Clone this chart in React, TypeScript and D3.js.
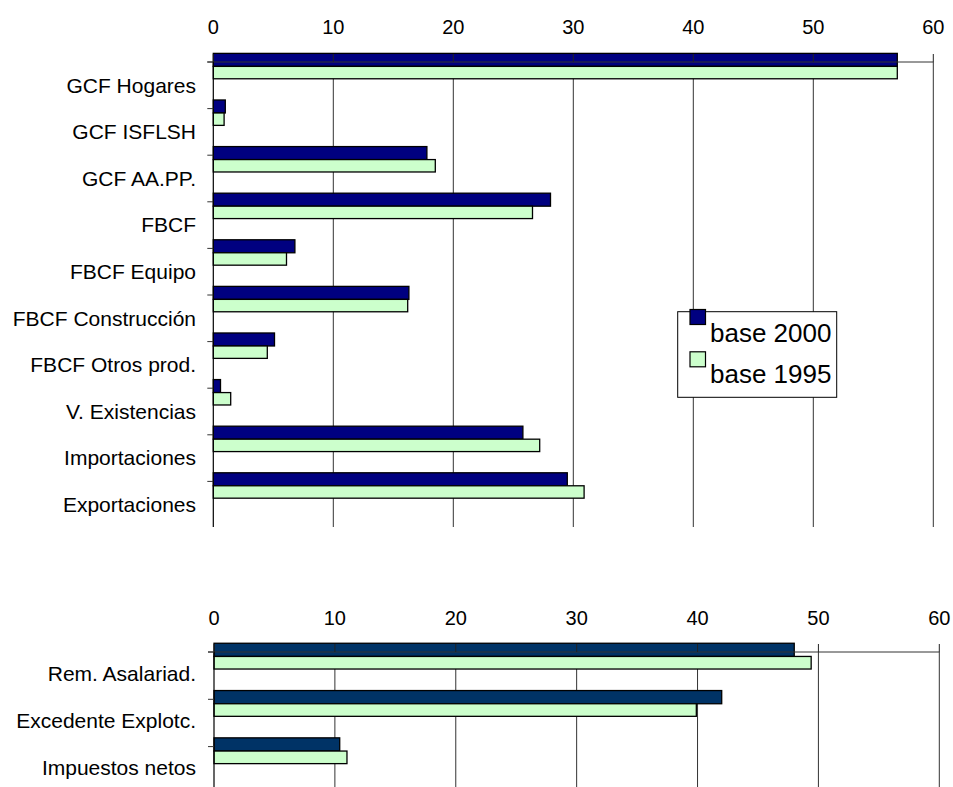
import React from "react";
import * as d3 from "d3";

const categoriesTop = [
  "GCF Hogares",
  "GCF ISFLSH",
  "GCF AA.PP.",
  "FBCF",
  "FBCF Equipo",
  "FBCF Construcción",
  "FBCF Otros prod.",
  "V. Existencias",
  "Importaciones",
  "Exportaciones",
];
const base2000Top = [57.0, 1.0, 17.8, 28.1, 6.8, 16.3, 5.1, 0.6, 25.8, 29.5];
const base1995Top = [57.0, 0.9, 18.5, 26.6, 6.1, 16.2, 4.5, 1.45, 27.2, 30.9];

const categoriesBottom = ["Rem. Asalariad.", "Excedente Explotc.", "Impuestos netos"];
const base2000Bottom = [48.0, 42.0, 10.4];
const base1995Bottom = [49.4, 39.9, 11.0];

const xTicks = [0, 10, 20, 30, 40, 50, 60];
const legendLabels = ["base 2000", "base 1995"];

const W = 953;
const H = 787;
const FONT = "'Liberation Sans', Arial, Helvetica, sans-serif";
const GREEN = "#CCFFCC";

type PanelProps = {
  cats: string[];
  a: number[];
  b: number[];
  x0: number;
  x1: number;
  top: number;
  band: number;
  bottom: number;
  navy: string;
  tickLabelY: number;
  labelFrac: number;
};

function Panel({ cats, a, b, x0, x1, top, band, bottom, navy, tickLabelY, labelFrac }: PanelProps) {
  const x = d3.scaleLinear().domain([0, 60]).range([x0, x1]);
  const y = d3
    .scaleBand<string>()
    .domain(cats)
    .range([top, top + band * cats.length])
    .paddingInner(0)
    .paddingOuter(0);
  const bw = y.bandwidth();
  const off1 = -0.185 * bw;
  const off2 = 0.094 * bw;
  const off3 = 0.36 * bw;
  const yBoundaries = cats.map((c) => y(c) as number);

  return (
    <g>
      {xTicks.slice(1).map((t) => (
        <line key={"g" + t} x1={x(t)} x2={x(t)} y1={top} y2={bottom} stroke="#333" strokeWidth={1} />
      ))}
      {cats.map((c, i) => {
        const y0 = y(c) as number;
        return (
          <g key={c}>
            <rect x={x(0)} y={y0 + off1} width={x(a[i]) - x(0)} height={off2 - off1} fill={navy} stroke="#000" strokeWidth={1.3} />
            <rect x={x(0)} y={y0 + off2} width={x(b[i]) - x(0)} height={off3 - off2} fill={GREEN} stroke="#000" strokeWidth={1.3} />
          </g>
        );
      })}
      <line x1={x(0) - 6} x2={x(60)} y1={top} y2={top} stroke="#333" strokeWidth={1} />
      {xTicks.map((t) => (
        <line key={"t" + t} x1={x(t)} x2={x(t)} y1={top - 8} y2={top} stroke="#222" strokeWidth={1} />
      ))}
      <line x1={x(0)} x2={x(0)} y1={top} y2={bottom} stroke="#000" strokeWidth={1.2} />
      {yBoundaries.map((yy, i) => (
        <line key={"yt" + i} x1={x(0) - 6} x2={x(0)} y1={yy} y2={yy} stroke="#333" strokeWidth={1} />
      ))}
      {xTicks.map((t) => (
        <text key={"l" + t} x={x(t)} y={tickLabelY} textAnchor="middle" fontSize={20} fontFamily={FONT} fill="#000">
          {t}
        </text>
      ))}
      {cats.map((c) => (
        <text key={"c" + c} x={196} y={(y(c) as number) + bw * labelFrac} dy="0.35em" textAnchor="end" fontSize={21} fontFamily={FONT} fill="#000">
          {c}
        </text>
      ))}
    </g>
  );
}

export default function App() {
  const legendColors = ["#000080", GREEN];
  return (
    <svg width={W} height={H} style={{ position: "absolute", left: 0, top: 0, background: "#fff" }}>
      <rect x={0} y={0} width={W} height={H} fill="#fff" />
      <Panel
        cats={categoriesTop}
        a={base2000Top}
        b={base1995Top}
        x0={213.3}
        x1={933.3}
        top={62}
        band={46.6}
        bottom={527}
        navy="#000080"
        tickLabelY={34}
        labelFrac={0.5}
      />
      <Panel
        cats={categoriesBottom}
        a={base2000Bottom}
        b={base1995Bottom}
        x0={214}
        x1={939.3}
        top={652}
        band={47.3}
        bottom={800}
        navy="#003366"
        tickLabelY={625}
        labelFrac={0.45}
      />
      <g>
        <rect x={677.7} y={311.7} width={159} height={85.6} fill="#fff" stroke="#000" strokeWidth={1} />
        {legendLabels.map((l, i) => (
          <g key={l}>
            <rect x={690} y={309.5 + i * 42.3} width={15.5} height={15} fill={legendColors[i]} stroke="#000" strokeWidth={1.2} />
            <text x={710} y={342.3 + i * 41} fontSize={26} fontFamily={FONT} fill="#000">
              {l}
            </text>
          </g>
        ))}
      </g>
    </svg>
  );
}
